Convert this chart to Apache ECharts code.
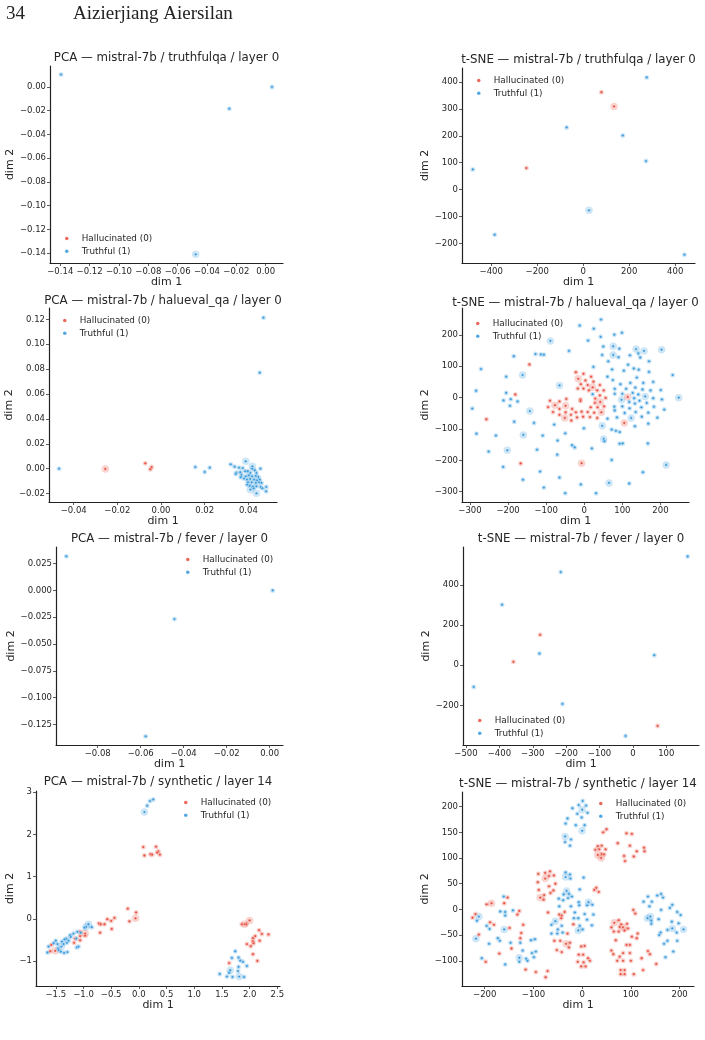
<!DOCTYPE html>
<html>
<head>
<meta charset="utf-8">
<style>html,body{margin:0;padding:0;background:#fff}#chart{width:705px;height:1040px}</style>
<script src="https://cdn.jsdelivr.net/npm/echarts@6/dist/echarts.min.js"></script>
</head>
<body>
<div id="chart"></div>
<script>
// Embedding projections of hidden states per dataset. A third value of 1 marks a duplicated point (wider halo).
const hallucinatedName = 'Hallucinated (0)';
const truthfulName = 'Truthful (1)';

const pcaTruthfulqaHallucinated = [];
const pcaTruthfulqaTruthful = [[-0.1395,0.0105],[0.0043,0],[-0.0248,-0.0183],[-0.0477,-0.1411,1]];
const tsneTruthfulqaHallucinated = [[79,362],[134,309,1],[-247,80]];
const tsneTruthfulqaTruthful = [[276,417],[-72,231],[172,201],[273,106],[-480,75],[25,-77,1],[-385,-168],[440,-242]];

const pcaHaluevalHallucinated = [[-0.0072,0.0043],[-0.0255,-0.0003,1],[-0.0043,0.0013],[-0.0049,-0.0005]];
const pcaHaluevalTruthful = [[0.0469,0.1213],[0.0452,0.0771],[-0.0467,0],[0.0157,0.0013],[0.02,-0.0027],[0.0223,0.0008],
  [0.0319,0.0035],[0.0337,0.0016],[0.0357,0.0008],[0.0374,0.0005],[0.0388,0.0059,1],[0.0455,0],[0.0345,-0.0032],[0.0342,-0.0043],
  [0.0363,-0.0029],[0.0368,-0.0051],[0.0365,-0.007],[0.0385,-0.0021],[0.0397,-0.0021],[0.0418,0.0019,1],[0.0417,0],[0.0409,-0.0035],
  [0.0429,-0.0013],[0.0437,-0.0035],[0.0388,-0.0062],[0.0402,-0.0054],[0.0417,-0.0062],[0.0434,-0.0059],[0.0446,-0.0067],[0.038,-0.008],
  [0.0394,-0.0088],[0.0408,-0.0083],[0.0426,-0.0088],[0.044,-0.0094],[0.0452,-0.0088],[0.0398,-0.011],[0.0415,-0.011],[0.0434,-0.0115],
  [0.0449,-0.011],[0.046,-0.0115],[0.0406,-0.0137],[0.0421,-0.0142],[0.0437,-0.0142],[0.0456,-0.0147],[0.0409,-0.0169,1],[0.0424,-0.0158],
  [0.0464,-0.0158],[0.0482,-0.0147],[0.0481,-0.0182],[0.0437,-0.0198,1],[0.0394,-0.0129]];
const tsneHaluevalHallucinated = [[-22,81],[-2,76],[18,67],[-16,60,1],[3,55],[24,51],[-9,43],[9,40],[41,40],[-17,29],[-2,29],[22,33,1],[12,23],[34,23],[51,23],
  [41,7],[29,-3],[56,-1],[-10,-6],[-10,-11],[-47,-4],[-90,-10],[-65,-12],[42,-14,1],[28,-17],[-77,-24,1],[-49,-26,1],[-95,-30],[17,-31],[35,-31],[52,-28],
  [-65,-36],[-32,-36],[-82,-46],[-49,-47],[-22,-47],[-7,-45],[9,-46],[26,-48],[45,-47,1],[-65,-55],[-35,-55],[-51,-65,1],[-19,-63],[-3,-61],[15,-62],[34,-65],
  [-34,-73],[114,2,1],[105,-81,1],[-181,10],[-144,106],[-257,-69],[-167,-210],[-7,-209,1]];
const tsneHaluevalTruthful = [[44,249],[-12,230],[25,220],[43,194],[79,201],[99,207],[-89,181,1],[10,182],[-40,149],[50,163],[76,164,1],[92,156],[136,155,1],[157,149,1],
  [203,153,1],[-185,132],[-128,139],[-114,138],[-106,137],[47,136],[76,136,1],[90,129],[120,135],[142,141],[147,128],[63,116],[170,116],[115,105],[24,98],[73,90],[104,86],
  [130,93],[143,89],[170,82],[-271,91],[-162,72,1],[-205,67],[232,72],[61,67],[138,64],[75,56],[95,43],[121,47],[155,47],[181,50],[-65,39,1],[-284,22],[-205,15],[80,28],
  [110,28],[80,12],[100,12],[22,11],[134,32],[153,26],[174,23],[201,24],[127,15],[142,10],[160,4,1],[248,0,1],[181,-2],[131,-2],[98,-7,1],[204,-6],[-193,-5],[-212,-9],
  [-175,-12],[145,-10],[118,-14],[164,-17],[133,-19],[-195,-26],[100,-28],[79,-29],[150,-31],[183,-29],[210,-38],[-294,-35],[119,-34],[-143,-43,1],[80,-41],[135,-46],
  [106,-49],[168,-48],[86,-63],[123,-65,1],[61,-67],[151,-61],[192,-64],[-184,-77],[-132,-81],[168,-83],[-79,-86],[133,-91],[47,-90,1],[-1,-98],[72,-102],[83,-106],
  [93,-110],[-283,-115],[-50,-114],[-232,-121],[-160,-119,1],[-109,-121],[51,-132,1],[-70,-137],[53,-139],[-32,-152],[-25,-159],[93,-147],[101,-146],[167,-146],[20,-162],
  [-202,-168,1],[-124,-166],[-251,-172],[-71,-182],[72,-199],[215,-215,1],[-213,-221],[-116,-236],[154,-238],[-161,-262],[-65,-255],[65,-272,1],[-9,-277],[118,-274],
  [-106,-287],[-50,-305],[31,-305]];

const pcaFeverHallucinated = [];
const pcaFeverTruthful = [[-0.0946,0.0318],[0.0014,0],[-0.0443,-0.0268],[-0.0577,-0.1362]];
const tsneFeverHallucinated = [[-278,152],[-358,17],[74,-303]];
const tsneFeverTruthful = [[164,543],[-216,465],[-392,302],[-280,58],[64,50],[-477,-108],[-211,-193],[-22,-353]];

const pcaSyntheticHallucinated = [[0.08,1.7],[0.1,1.5],[0.31,1.71],[0.21,1.53],[0.24,1.52],[0.35,1.6],[0.33,1.57],[0.38,1.52],[-0.2,0.24],[-0.05,0.15],[-0.17,-0.06],[-0.06,0.01,1],
  [-0.57,-0.01],[-0.5,-0.05],[-0.44,0.02],[-0.72,-0.11],[-0.69,-0.13],[-0.62,-0.13],[-0.49,-0.24],[-0.7,-0.33],[2,-0.04,1],[1.86,-0.13],[1.91,-0.13,1],[1.94,-0.13],[2.17,-0.27],
  [2.22,-0.36],[2.34,-0.37],[2.1,-0.41],[2.06,-0.46],[2.06,-0.53],[2.18,-0.52],[2.07,-0.58],[1.95,-0.6],[2.02,-0.65],[2.06,-0.84],[2.14,-1],[1.63,-1.05],[-1.06,-0.31],[-0.97,-0.35,1],
  [-1.06,-0.41],[-0.97,-0.4],[-1.15,-0.47],[-1.06,-0.51],[-1.17,-0.57],[-1.58,-0.62],[-1.6,-0.77],[-1.51,-0.76,1]];
const pcaSyntheticTruthful = [[0.26,2.83],[0.2,2.79],[0.15,2.68],[0.1,2.53,1],[-0.91,-0.13,1],[-0.95,-0.19,1],[-0.85,-0.2],[-0.98,-0.21],[-1.05,-0.33],[-1.11,-0.31],[-1.18,-0.35],[-1.24,-0.39],
  [-1.31,-0.47],[-1.27,-0.52],[-1.39,-0.54],[-1.5,-0.52],[-1.47,-0.6],[-1.36,-0.6],[-1.3,-0.57],[-1.4,-0.66,1],[-1.46,-0.7],[-1.63,-0.66],[-1.65,-0.8],[-1.45,-0.74],[-1.41,-0.78],[-1.35,-0.81],
  [-1.29,-0.79],[-1.12,-0.68],[-1.09,-0.66],[-1.23,-0.43],[-1.13,-0.47],[-1.54,-0.58],[-1.34,-0.49],[1.74,-0.77],[1.68,-0.93],[1.8,-0.92],[1.83,-0.99],[1.88,-1.02],[1.8,-1.14],[1.65,-1.22,1],
  [1.95,-1.12],[1.79,-1.24],[1.63,-1.28],[1.46,-1.31],[1.59,-1.37],[1.69,-1.38],[1.81,-1.37,1],[1.9,-1.38]];
const tsneSyntheticHallucinated = [[40,124],[32,123],[50,156],[43,150],[91,148],[102,147],[73,129],[98,124],[127,120],[128,113],[112,113],[27,116],[35,117],[48,117],[32,106,1],[40,108],[45,107],[39,100,1],
  [86,104],[106,103],[88,94],[-90,69],[-76,71],[-66,74],[-58,66],[-76,60,1],[-68,65],[-91,53],[-68,45],[-55,50],[-89,38],[-59,37],[-78,28],[-86,23,1],[-79,19],[-65,32],[-70,-6],[29,42],[25,38],[34,34],
  [-47,-10],[-36,-5],[-42,-12],[-43,-17],[-18,-29],[-30,-47],[-57,-61],[-45,-61],[-33,-67,1],[-25,-65],[-27,-74],[-52,-79],[-42,-83],[-2,-72],[5,-71],[-7,-88],[2,-88],[12,-95],[16,-100],[-9,-102],[3,-103],
  [-2,-111],[7,-111],[75,-21],[66,-26,1],[80,-29],[92,-28],[60,-35],[77,-34],[84,-35,1],[94,-37],[65,-43],[75,-43],[87,-41],[114,-47],[102,-53],[112,-56],[69,-60],[91,-69],[98,-69],[60,-80],[64,-87],[84,-85],
  [77,-92],[98,-85],[72,-100],[84,-100],[100,-100],[135,-81],[139,-87],[122,-95],[152,-106],[79,-118],[87,-118],[79,-126],[87,-126],[106,-126],[125,-118],[105,-1],[109,-8],[-186,12,1],[-196,10],[-153,23],[-160,12],
  [-129,-3],[-133,-10],[-219,-9],[-225,-16],[-189,-25],[-181,-30],[-121,-30],[-149,-36],[-212,-49],[-125,-46],[-127,-56],[-145,-76],[-170,-86],[-198,-102],[-116,-117],[-95,-122],[-71,-120],[-75,-132]];
const tsneSyntheticTruthful = [[1,211],[-7,203],[8,202],[-20,197],[0,194,1],[-30,177],[-10,186],[11,188],[-1,179],[-34,167],[-13,164],[5,164],[0,153,1],[-35,142,1],[-23,136],[-35,131],[-25,124],
  [-34,72],[-25,68],[-34,63,1],[-24,60],[3,62],[-5,39],[-32,36,1],[-27,30],[-38,29],[-21,25],[-48,21],[-29,22],[-39,18],[-7,14],[13,14,1],[-47,6],[-23,6],[10,8],[21,9],[-6,8],[-15,-6],[5,-9],[23,-10],[-17,-17],
  [-55,-23,1],[-8,-17],[10,-20],[-63,-30],[-42,-32],[-5,-32],[20,-31],[-50,-39],[1,-39],[-8,-41,1],[-63,-47],[-51,-47],[-40,-45],[-161,25],[-168,-4],[-158,-5],[-142,-2],[-158,-12],[-212,-14,1],[-216,-22],[-196,-32],
  [-190,-38],[-160,-39,1],[-218,-57,1],[-173,-56],[-169,-61],[-147,-65],[-191,-67],[-105,-60],[-97,-58],[-122,-80],[-95,-82],[-103,-85],[-99,-93],[-206,-95],[-129,-94,1],[-115,-96],[-112,-100],[-129,-102],[-158,-107],
  [-127,-65],[126,15],[135,25],[154,27],[162,30],[166,23],[138,6],[143,15],[162,-1],[185,9],[180,3],[195,-5],[202,-11],[134,-17,1],[140,-14,1],[142,-22],[142,-28],[157,-19],[184,-24],[198,-27],[185,-37,1],[175,-40],
  [208,-39,1],[194,-45],[161,-45],[158,-50],[175,-61],[168,-67],[195,-61],[187,-82],[171,-93]];

// Tick positions per panel
const ticksPcaTruthfulqaX = [-0.14,-0.12,-0.10,-0.08,-0.06,-0.04,-0.02,0];
const ticksPcaTruthfulqaY = [0,-0.02,-0.04,-0.06,-0.08,-0.10,-0.12,-0.14];
const ticksTsneTruthfulqaX = [-400,-200,0,200,400];
const ticksTsneTruthfulqaY = [400,300,200,100,0,-100,-200];
const ticksPcaHaluevalX = [-0.04,-0.02,0,0.02,0.04];
const ticksPcaHaluevalY = [0.12,0.10,0.08,0.06,0.04,0.02,0,-0.02];
const ticksTsneHaluevalX = [-300,-200,-100,0,100,200];
const ticksTsneHaluevalY = [200,100,0,-100,-200,-300];
const ticksPcaFeverX = [-0.08,-0.06,-0.04,-0.02,0];
const ticksPcaFeverY = [0.025,0,-0.025,-0.05,-0.075,-0.1,-0.125];
const ticksTsneFeverX = [-500,-400,-300,-200,-100,0,100];
const ticksTsneFeverY = [400,200,0,-200];
const ticksPcaSyntheticX = [-1.5,-1,-0.5,0,0.5,1,1.5,2,2.5];
const ticksPcaSyntheticY = [3,2,1,0,-1];
const ticksTsneSyntheticX = [-200,-100,0,100,200];
const ticksTsneSyntheticY = [200,150,100,50,0,-50,-100];

const RED = '#e74c3c', BLUE = '#3498db', INK = '#262626';
const SANS = '"DejaVu Sans"';

const panels = [
  {title:'PCA — mistral-7b / truthfulqa / layer 0', box:[50,66,233,197], xr:[-0.147,0.0118], yr:[-0.1484,0.0177], xt:ticksPcaTruthfulqaX, yt:ticksPcaTruthfulqaY, xd:2, yd:2, h:pcaTruthfulqaHallucinated, t:pcaTruthfulqaTruthful, titleY:57, gapY:39, leg:[67,238]},
  {title:'t-SNE — mistral-7b / truthfulqa / layer 0', box:[462,68,233,195], xr:[-527,486], yr:[-273,452], xt:ticksTsneTruthfulqaX, yt:ticksTsneTruthfulqaY, xd:0, yd:0, h:tsneTruthfulqaHallucinated, t:tsneTruthfulqaTruthful, titleY:59, gapY:34, leg:[479,80]},
  {title:'PCA — mistral-7b / halueval_qa / layer 0', box:[49,308,228,194], xr:[-0.0513,0.0531], yr:[-0.0268,0.1291], xt:ticksPcaHaluevalX, yt:ticksPcaHaluevalY, xd:2, yd:2, h:pcaHaluevalHallucinated, t:pcaHaluevalTruthful, titleY:300, gapY:37, leg:[65,320]},
  {title:'t-SNE — mistral-7b / halueval_qa / layer 0', box:[462,308,227,194], xr:[-321,275], yr:[-333,286], xt:ticksTsneHaluevalX, yt:ticksTsneHaluevalY, xd:0, yd:0, h:tsneHaluevalHallucinated, t:tsneHaluevalTruthful, titleY:302, gapY:35, leg:[478,323]},
  {title:'PCA — mistral-7b / fever / layer 0', box:[56,547,227,198], xr:[-0.0994,0.0062], yr:[-0.1443,0.0405], xt:ticksPcaFeverX, yt:ticksPcaFeverY, xd:2, yd:3, h:pcaFeverHallucinated, t:pcaFeverTruthful, titleY:538, gapY:44, leg:[188,559]},
  {title:'t-SNE — mistral-7b / fever / layer 0', box:[463,547,236,198], xr:[-509,198], yr:[-398,590], xt:ticksTsneFeverX, yt:ticksTsneFeverY, xd:0, yd:0, h:tsneFeverHallucinated, t:tsneFeverTruthful, titleY:538, gapY:36, leg:[480,720]},
  {title:'PCA — mistral-7b / synthetic / layer 14', box:[36,791,244,195], xr:[-1.857,2.548], yr:[-1.594,3.03], xt:ticksPcaSyntheticX, yt:ticksPcaSyntheticY, xd:1, yd:0, h:pcaSyntheticHallucinated, t:pcaSyntheticTruthful, titleY:781, gapY:24, leg:[186,802]},
  {title:'t-SNE — mistral-7b / synthetic / layer 14', box:[462,792,232,194], xr:[-246.6,229.5], yr:[-149,228.5], xt:ticksTsneSyntheticX, yt:ticksTsneSyntheticY, xd:0, yd:0, h:tsneSyntheticHallucinated, t:tsneSyntheticTruthful, titleY:783, gapY:36, leg:[601,803]}
];

const fmt = d => v => Number(v).toFixed(d).replace('-', '\u2212');

function axis(range, ticks, dec, gridIndex, name, gap) {
  return {
    type: 'value', gridIndex, min: range[0], max: range[1], scale: true,
    name, nameLocation: 'middle', nameGap: gap,
    nameTextStyle: {fontFamily: SANS, fontSize: 11, color: INK},
    axisLine: {show: true, onZero: false, lineStyle: {color: '#222', width: 1.2}},
    axisTick: {show: true, length: 3, lineStyle: {color: '#333', width: 0.8}, customValues: ticks},
    axisLabel: {show: true, customValues: ticks, formatter: fmt(dec), fontFamily: SANS, fontSize: 8.5, color: INK, margin: 4, hideOverlap: false},
    splitLine: {show: false}
  };
}

const grid = [], xAxis = [], yAxis = [], series = [], title = [], legend = [];

panels.forEach((p, i) => {
  const [l, t, w, h] = p.box;
  grid.push({left: l, top: t, width: w, height: h, containLabel: false});
  xAxis.push(axis(p.xr, p.xt, p.xd, i, 'dim 1', 13));
  yAxis.push(axis(p.yr, p.yt, p.yd, i, 'dim 2', p.gapY - 8));
  title.push({text: p.title, left: l + w / 2, top: p.titleY - 5.5, padding: 0, textAlign: 'center',
    textStyle: {fontFamily: SANS, fontSize: 11.8, fontWeight: 'normal', color: INK}});
  legend.push({
    left: p.leg[0] - 2, top: p.leg[1] - 4, padding: 0, orient: 'vertical', itemWidth: 20, itemHeight: 3.5, itemGap: 3.8,
    icon: 'circle', selectedMode: false, data: [hallucinatedName, truthfulName],
    itemStyle: {borderWidth: 0, opacity: 0.85},
    textStyle: {fontFamily: SANS, fontSize: 8.8, color: INK, padding: 0}
  });
  [[p.h, RED, hallucinatedName], [p.t, BLUE, truthfulName]].forEach(([data, color, name]) => {
    series.push({
      type: 'scatter', xAxisIndex: i, yAxisIndex: i, data, silent: true, z: 2, name: name + ' halo',
      symbolSize: d => d[2] ? 7.5 : 5,
      itemStyle: {color, opacity: 0.24, borderWidth: 0}
    });
    series.push({
      type: 'scatter', xAxisIndex: i, yAxisIndex: i, data, silent: true, z: 3, name,
      symbolSize: 2.8,
      itemStyle: {color, opacity: 0.95, borderColor: '#fff', borderWidth: 0.4}
    });
  });
});

const chart = echarts.init(document.getElementById('chart'), null, {renderer: 'canvas'});
chart.setOption({
  animation: false, backgroundColor: '#fff', grid, xAxis, yAxis, series, title, legend,
  graphic: [
    {type: 'text', left: 6, top: 5, style: {text: '34', font: '19px "Liberation Serif"', fill: '#222'}},
    {type: 'text', left: 73, top: 5, style: {text: 'Aizierjiang Aiersilan', font: '19px "Liberation Serif"', fill: '#222'}}
  ]
});
</script>
</body>
</html>
